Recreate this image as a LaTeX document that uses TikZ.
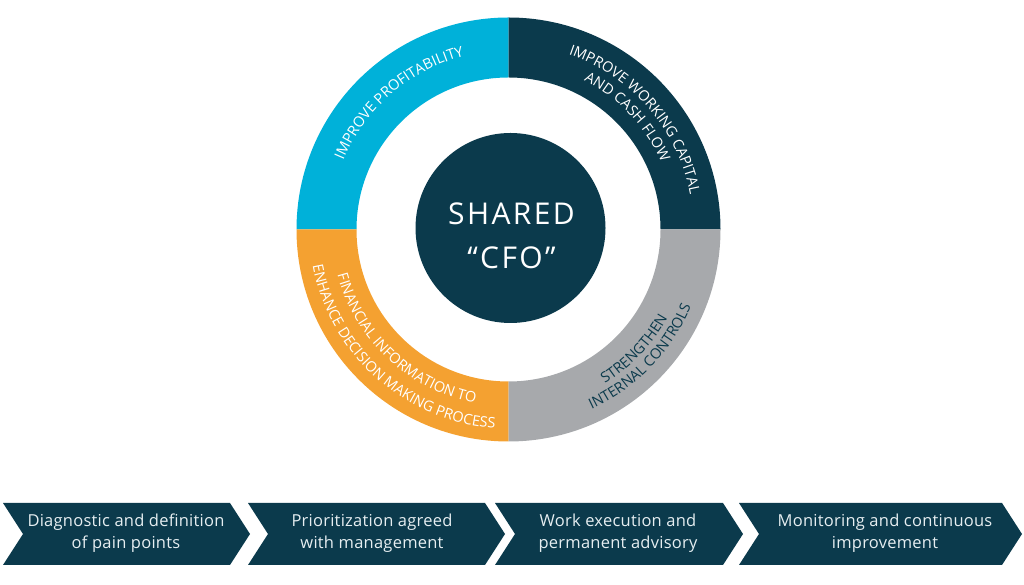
\documentclass[tikz,border=0pt]{standalone}
\usepackage{fontspec}
\setmainfont{Open Sans}
\usetikzlibrary{decorations.text,calc}
\definecolor{navy}{HTML}{0B3A4C}
\definecolor{cyanq}{HTML}{00B1D9}
\definecolor{orangeq}{HTML}{F4A131}
\definecolor{grayq}{HTML}{A7A9AC}
\definecolor{chevtext}{HTML}{E6EEF1}
\newcommand\ringfont{\fontsize{14.5}{14.5}\selectfont}
\begin{document}
\begin{tikzpicture}[x=1pt,y=1pt,
  chevron/.style={fill=navy},
  chevtxt/.style={text=chevtext, align=center, inner sep=0pt, font=\fontsize{16.5}{21.6}\selectfont\addfontfeatures{LetterSpace=1.5}},
  ringtext/.style={decorate, decoration={text along path, text align=center, text={#1}}}
]
\useasboundingbox (0,0) rectangle (1024,585);
\coordinate (c) at (508.5,355.5);
% ring sectors
\fill[cyanq] ($(c)+(90:212)$) arc[start angle=90,end angle=180,radius=212] -- ($(c)+(180:152)$) arc[start angle=180,end angle=90,radius=152] -- cycle;
\fill[navy] ($(c)+(0:212)$) arc[start angle=0,end angle=90,radius=212] -- ($(c)+(90:152)$) arc[start angle=90,end angle=0,radius=152] -- cycle;
\fill[orangeq] ($(c)+(180:212)$) arc[start angle=180,end angle=270,radius=212] -- ($(c)+(270:152)$) arc[start angle=270,end angle=180,radius=152] -- cycle;
\fill[grayq] ($(c)+(270:212)$) arc[start angle=270,end angle=360,radius=212] -- ($(c)+(0:152)$) arc[start angle=360,end angle=270,radius=152] -- cycle;
% center circle
\node[circle, fill=navy, minimum size=190, inner sep=0pt] (cfo) at (510.5,357) {};
\node[text=white, align=center, inner sep=0pt, font=\fontsize{30}{44.3}\selectfont\addfontfeatures{LetterSpace=8}] (cfotxt) at (511.5,349.2) {SHARED\\“CFO”};
% ring texts
\path[ringtext={|\ringfont\color{white}|IMPROVE PROFITABILITY}] ($(c)+(174.8:179)$) arc[start angle=174.8,end angle=86.8,radius=179];
\path[ringtext={|\ringfont\color{white}|IMPROVE WORKING CAPITAL}] ($(c)+(85:185)$) arc[start angle=85,end angle=-3,radius=185];
\path[ringtext={|\ringfont\color{white}|AND CASH FLOW}] ($(c)+(87.5:167)$) arc[start angle=87.5,end angle=-0.5,radius=167];
\path[ringtext={|\ringfont\color{white}|FINANCIAL INFORMATION TO}] ($(c)+(183:177)$) arc[start angle=183,end angle=271,radius=177];
\path[ringtext={|\ringfont\color{white}|ENHANCE DECISION MAKING PROCESS}] ($(c)+(184.2:199)$) arc[start angle=184.2,end angle=272.2,radius=199];
\path[ringtext={|\ringfont\color{navy}|STRENGTHEN}] ($(c)+(-87.5:182)$) arc[start angle=-87.5,end angle=0.5,radius=182];
\path[ringtext={|\ringfont\color{navy}|INTERNAL CONTROLS}] ($(c)+(-88:198)$) arc[start angle=-88,end angle=0,radius=198];
% chevrons
\fill[chevron] (3,82) -- (230,82) -- (250,51) -- (230,20) -- (3,20) -- (23,51) -- cycle;
\fill[chevron] (248,82) -- (485,82) -- (505,51) -- (485,20) -- (248,20) -- (268,51) -- cycle;
\fill[chevron] (495,82) -- (723,82) -- (743,51) -- (723,20) -- (495,20) -- (515,51) -- cycle;
\fill[chevron] (739,82) -- (1002,82) -- (1022,51) -- (1002,20) -- (739,20) -- (759,51) -- cycle;
\node[chevtxt] (s1) at (126,51.7) {Diagnostic and definition\\of pain points};
\node[chevtxt] (s2) at (372,51.7) {Prioritization agreed\\with management};
\node[chevtxt] (s3) at (618,51.7) {Work execution and\\permanent advisory};
\node[chevtxt] (s4) at (885,51.7) {Monitoring and continuous\\improvement};
\end{tikzpicture}
\end{document}
